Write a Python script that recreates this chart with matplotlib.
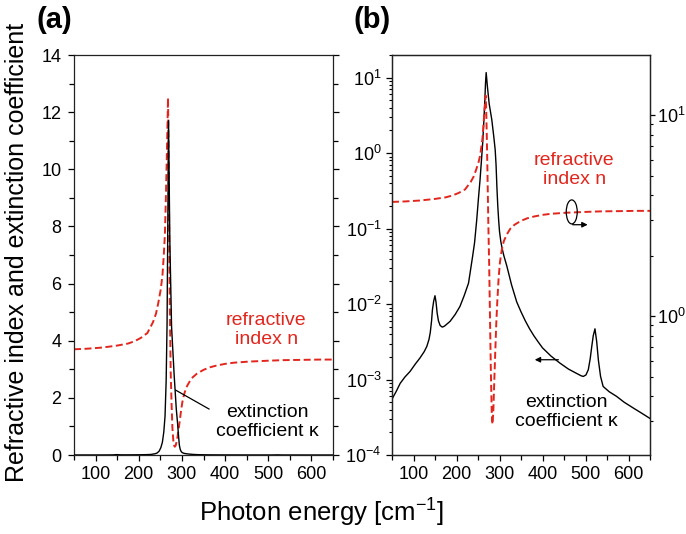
import numpy as np
import matplotlib
matplotlib.use("Agg")
import matplotlib.pyplot as plt
from matplotlib.ticker import LogLocator, NullFormatter, FixedLocator, MultipleLocator
from matplotlib.patches import Ellipse

plt.rcParams['font.family'] = ['Liberation Sans', 'DejaVu Sans']
plt.rcParams['mathtext.fontset'] = 'custom'
plt.rcParams['mathtext.rm'] = 'Liberation Sans'
plt.rcParams['mathtext.it'] = 'Liberation Sans:italic'
plt.rcParams['mathtext.bf'] = 'Liberation Sans:bold'

# Photon energy grid and refractive index n
energy_n = [50, 80, 115, 150, 175, 190, 205, 220, 233, 240, 245, 251, 255, 258,
            260.5, 262.5, 264.5, 266.5, 267.8, 269, 270.5, 272, 274, 276, 278,
            280, 282, 283.5, 285.5, 287.5, 290, 292.5, 295, 298, 301, 305, 310,
            317, 325, 335, 350, 365, 380, 400, 420, 456, 500, 534, 580, 620, 650]
refr_n = [3.70, 3.72, 3.76, 3.83, 3.90, 3.98, 4.10, 4.27, 4.65, 4.95, 5.30, 5.80,
          6.30, 7.00, 7.70, 8.80, 10.1, 11.5, 12.5, 10.8, 7.8, 5.2, 2.9, 1.8,
          0.95, 0.52, 0.33, 0.29, 0.33, 0.45, 0.65, 0.92, 1.20, 1.55, 1.85, 2.12,
          2.36, 2.55, 2.72, 2.85, 2.98, 3.07, 3.13, 3.19, 3.23, 3.27, 3.30, 3.32,
          3.33, 3.34, 3.34]

# Photon energy grid and extinction coefficient kappa
energy_k = [50, 60, 69, 80, 92, 104, 115, 125, 131, 136, 139, 142, 144, 147, 150,
            152.5, 155, 158, 162, 167, 172, 185, 197, 208, 218, 228, 237.5, 242,
            247, 251, 254.7, 258, 260.9, 263.5, 265.6, 267.5, 269, 272, 276, 282,
            287, 290, 292, 294, 296, 298, 300, 303, 306, 310, 317, 328, 340, 350,
            360, 370, 380, 390, 400, 420, 440, 460, 480, 490, 495, 501, 506.5, 511,
            514.4, 518, 522, 526, 530, 535, 541, 555, 572, 590, 611, 630, 650]
kappa = [5.5e-4, 7.0e-4, 8.9e-4, 1.08e-3, 1.28e-3, 1.6e-3, 1.93e-3, 2.35e-3,
         2.75e-3, 3.4e-3, 4.2e-3, 6.0e-3, 8.4e-3, 1.1e-2, 1.29e-2, 1.05e-2,
         7.6e-3, 6.0e-3, 5.2e-3, 4.95e-3, 5.1e-3, 5.9e-3, 7.3e-3, 9.3e-3, 1.3e-2,
         1.9e-2, 4.3e-2, 6.5e-2, 0.13, 0.25, 0.44, 0.80, 1.36, 2.6, 4.6, 8.5, 11.7,
         7.5, 4.5, 2.8, 1.6, 1.1, 0.7, 0.35, 0.2, 0.13, 0.092, 0.068, 0.055,
         0.044, 0.032, 0.018, 0.0107, 7.9e-3, 6.0e-3, 4.7e-3, 3.8e-3, 3.15e-3,
         2.63e-3, 2.04e-3, 1.66e-3, 1.38e-3, 1.2e-3, 1.12e-3, 1.1e-3, 1.15e-3,
         1.35e-3, 1.9e-3, 2.7e-3, 3.8e-3, 4.7e-3, 3.2e-3, 1.8e-3, 1.1e-3, 8.1e-4,
         6.9e-4, 6.0e-4, 5.0e-4, 4.2e-4, 3.6e-4, 3.05e-4]

x_ticks = [100, 200, 300, 400, 500, 600]
lin_yticks = [0, 2, 4, 6, 8, 10, 12, 14]

RED = '#e2261d'
DASH = (3.6, 1.8)
TICK_FS = 13

fig = plt.figure(figsize=(6.86, 5.34), dpi=100)
W, H = 686.0, 534.0
ax1 = fig.add_axes([74 / W, 1 - 455 / H, 259 / W, 400 / H])
ax2 = fig.add_axes([392 / W, 1 - 455 / H, 258 / W, 400 / H])


def style_x(ax):
    ax.set_xlim(50, 650)
    ax.xaxis.set_major_locator(FixedLocator(x_ticks))
    ax.xaxis.set_minor_locator(MultipleLocator(50))
    ax.tick_params(axis='x', which='both', direction='out', top=False,
                   labelsize=TICK_FS, pad=3.5)
    ax.tick_params(axis='x', which='major', length=4.5, width=0.9)
    ax.tick_params(axis='x', which='minor', length=3.5, width=0.9)
    for s in ax.spines.values():
        s.set_linewidth(0.9)
        s.set_color('#222222')


# ---- panel (a): linear scale ----
ax1.plot(energy_n, refr_n, color=RED, lw=1.4, dashes=DASH, zorder=2)
ax1.plot(energy_k, kappa, color='black', lw=1.0, zorder=3)
ax1.set_ylim(0, 14)
ax1.yaxis.set_major_locator(FixedLocator(lin_yticks))
ax1.yaxis.set_minor_locator(MultipleLocator(1))
ax1.tick_params(axis='y', which='both', direction='out', left=True, right=True,
                labelleft=True, labelright=False, labelsize=TICK_FS, pad=4.5)
ax1.tick_params(axis='y', which='major', length=4.5, width=0.9)
ax1.tick_params(axis='y', which='minor', length=3.5, width=0.9)
style_x(ax1)

ax1.text(495, 4.36, 'refractive\nindex n', color=RED, fontsize=14,
         ha='center', va='center', linespacing=1.15)
ax1.text(497, 1.14, 'extinction\ncoefficient κ', color='black', fontsize=14,
         ha='center', va='center', linespacing=1.15)
ax1.plot([285.6, 362.7], [2.27, 1.61], color='black', lw=0.9)

# ---- panel (b): logarithmic scales ----
ax2.set_yscale('log')
ax2.plot(energy_k, kappa, color='black', lw=1.0, zorder=3)
ax2.set_ylim(1e-4, 20)
ax2.yaxis.set_major_locator(LogLocator(base=10, numticks=10))
ax2.yaxis.set_minor_locator(LogLocator(base=10, subs=np.arange(2, 10), numticks=10))
ax2.yaxis.set_minor_formatter(NullFormatter())
ax2.tick_params(axis='y', which='both', direction='out', right=False,
                labelsize=TICK_FS, pad=3)
ax2.tick_params(axis='y', which='major', length=4.5, width=0.9)
ax2.tick_params(axis='y', which='minor', length=2.5, width=0.8)
style_x(ax2)

ax2r = ax2.twinx()
ax2r.set_yscale('log')
ax2r.plot(energy_n, refr_n, color=RED, lw=1.4, dashes=DASH, zorder=2)
ax2r.set_ylim(0.204, 19.9)
ax2r.yaxis.set_major_locator(LogLocator(base=10, numticks=10))
ax2r.yaxis.set_minor_locator(LogLocator(base=10, subs=np.arange(2, 10), numticks=10))
ax2r.yaxis.set_minor_formatter(NullFormatter())
ax2r.tick_params(axis='y', which='both', direction='out', labelsize=TICK_FS, pad=1.5)
ax2r.tick_params(axis='y', which='major', length=3.5, width=0.9)
ax2r.tick_params(axis='y', which='minor', length=2.5, width=0.8)
for s in ax2r.spines.values():
    s.set_linewidth(0.9)
    s.set_color('#222222')

ax2r.text(474, 5.36, 'refractive\nindex n', color=RED, fontsize=14,
          ha='center', va='center', linespacing=1.15)
ax2.text(455, 3.7e-4, 'extinction\ncoefficient κ', color='black',
         fontsize=14, ha='center', va='center', linespacing=1.15)

# arrow pointing to the left (kappa) axis
ax2.annotate('', xy=(382, 1.83e-3), xytext=(437, 1.83e-3),
             arrowprops=dict(arrowstyle='-|>', color='black', lw=0.9,
                             mutation_scale=8, shrinkA=0, shrinkB=0))
# ellipse marking the n curve with arrow to the right axis
cx, cy = 468, 3.30
disp = ax2r.transData.transform((cx, cy))
axc = ax2r.transAxes.inverted().transform(disp)
ax2r.add_patch(Ellipse(axc, 11 / 258, 24 / 400, transform=ax2r.transAxes,
                       fill=False, ec='black', lw=0.9, zorder=5))
ax2r.annotate('', xy=(505, 2.85), xytext=(470, 2.85),
              arrowprops=dict(arrowstyle='-|>', color='black', lw=0.9,
                              mutation_scale=8, shrinkA=0, shrinkB=0))

# panel tags and shared labels
fig.text(36 / W, 1 - 20 / H, '(a)', fontsize=21, fontweight='bold',
         ha='left', va='center')
fig.text(353 / W, 1 - 20 / H, '(b)', fontsize=21, fontweight='bold',
         ha='left', va='center')
fig.text(322 / W, 1 - 513 / H, 'Photon energy [cm$^{-1}$]', fontsize=18.5,
         ha='center', va='center')
fig.text(17 / W, 1 - 252 / H, 'Refractive index and extinction coefficient',
         fontsize=18, rotation=90, ha='center', va='center')

fig.savefig('out.png', dpi=100)
